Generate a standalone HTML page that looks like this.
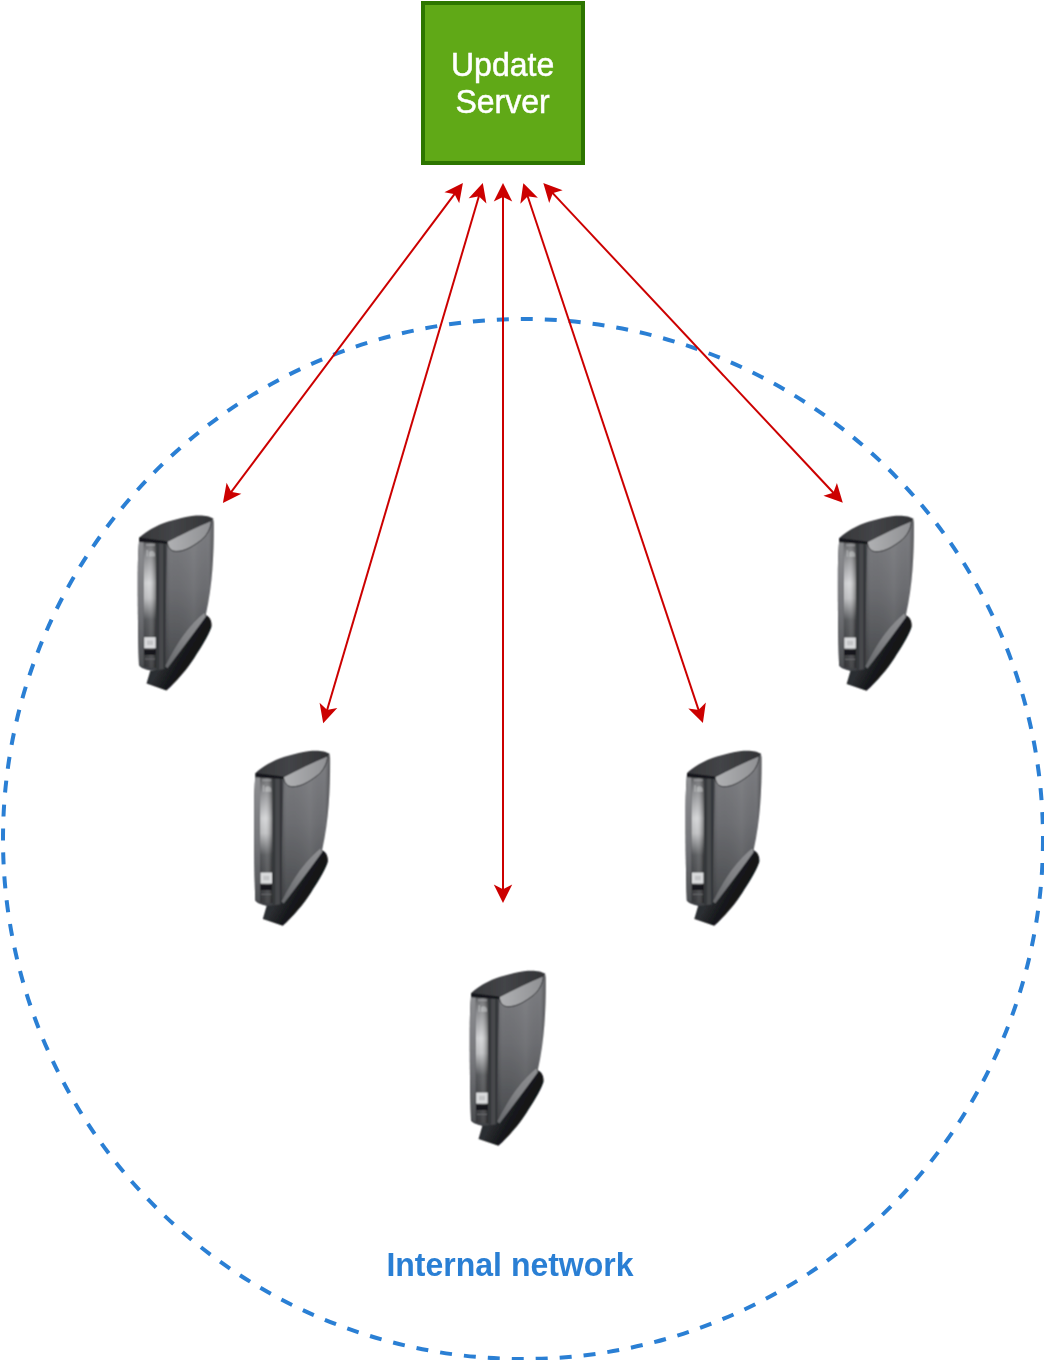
<!DOCTYPE html>
<html><head><meta charset="utf-8"><style>
html,body{margin:0;padding:0;background:#fff;}
body{width:1044px;height:1360px;overflow:hidden;position:relative;}
svg{position:absolute;left:0;top:0;will-change:transform;}
</style></head><body>
<svg width="1044" height="1360" viewBox="0 0 1044 1360">
<defs>
<filter id="soft" x="-5%" y="-5%" width="110%" height="110%"><feConvolveMatrix order="3" kernelMatrix="1 2 1 2 4 2 1 2 1" divisor="16" edgeMode="none"/></filter>
<linearGradient id="gSideV" x1="0" y1="0" x2="0" y2="1">
  <stop offset="0" stop-color="#7e7f83"/>
  <stop offset="0.45" stop-color="#6c6d71"/>
  <stop offset="1" stop-color="#46484b"/>
</linearGradient>
<linearGradient id="gSideH" x1="0" y1="0" x2="1" y2="0">
  <stop offset="0" stop-color="#000" stop-opacity="0.18"/>
  <stop offset="0.12" stop-color="#000" stop-opacity="0"/>
  <stop offset="0.6" stop-color="#fff" stop-opacity="0.05"/>
  <stop offset="0.9" stop-color="#000" stop-opacity="0"/>
  <stop offset="1" stop-color="#000" stop-opacity="0.28"/>
</linearGradient>
<linearGradient id="gStrip" x1="0" y1="0" x2="0" y2="1">
  <stop offset="0" stop-color="#5e5f62"/>
  <stop offset="0.12" stop-color="#8e8f92"/>
  <stop offset="0.33" stop-color="#d4d5d7"/>
  <stop offset="0.45" stop-color="#c0c1c3"/>
  <stop offset="0.62" stop-color="#57595c"/>
  <stop offset="1" stop-color="#333437"/>
</linearGradient>
<linearGradient id="gStripH" x1="0" y1="0" x2="1" y2="0">
  <stop offset="0" stop-color="#000" stop-opacity="0.05"/>
  <stop offset="0.4" stop-color="#fff" stop-opacity="0.05"/>
  <stop offset="1" stop-color="#000" stop-opacity="0.45"/>
</linearGradient>
<linearGradient id="gFrame" x1="0" y1="0" x2="0" y2="1">
  <stop offset="0" stop-color="#8d8e91"/>
  <stop offset="0.5" stop-color="#76777b"/>
  <stop offset="1" stop-color="#4d4f52"/>
</linearGradient>
<linearGradient id="gCres" x1="0" y1="0" x2="1" y2="0">
  <stop offset="0" stop-color="#b0b1b3"/>
  <stop offset="1" stop-color="#8f9093"/>
</linearGradient>
<linearGradient id="gCap" x1="0" y1="0" x2="1" y2="0">
  <stop offset="0" stop-color="#36373a"/>
  <stop offset="0.45" stop-color="#434447"/>
  <stop offset="1" stop-color="#323336"/>
</linearGradient>
<linearGradient id="gStand" x1="0.42" y1="0.38" x2="0.78" y2="0.62">
  <stop offset="0" stop-color="#2c2e31"/>
  <stop offset="0.5" stop-color="#16181b"/>
  <stop offset="1" stop-color="#0f1114"/>
</linearGradient>
<linearGradient id="gHi" x1="0" y1="1" x2="1" y2="0">
  <stop offset="0" stop-color="#66686b"/>
  <stop offset="0.5" stop-color="#818285"/>
  <stop offset="1" stop-color="#8e8f92"/>
</linearGradient>
<g id="dev">
  <!-- side face -->
  <path d="M34 34 L37.2 34.2 L83 11 C84 13 83.8 16 83.8 20 C83.8 45 82.5 78 76 106 L34 165 Z" fill="url(#gSideV)"/>
  <path d="M34 34 L37.2 34.2 L83 11 C84 13 83.8 16 83.8 20 C83.8 45 82.5 78 76 106 L34 165 Z" fill="url(#gSideH)"/>
  <!-- front panel -->
  <path d="M9.3 30 L37.2 34 L34.6 163.5 L20.3 162.6 C14 161 10 159.5 9 157 C8 130 7.6 90 7.8 60 C8 45 8.8 35 9.3 30 Z" fill="#404246"/>
  <path d="M9.3 31 L13.8 31.5 L13.8 158.6 L9 157 C8 130 7.6 90 7.8 60 C8 45 8.8 35 9.3 31 Z" fill="url(#gFrame)"/>
  <path d="M13.8 33 L26.2 33.5 L26.2 160 L13.8 159 Z" fill="url(#gStrip)"/>
  <path d="M13.8 33 L26.2 33.5 L26.2 160 L13.8 159 Z" fill="url(#gStripH)"/>
  <rect x="26.2" y="33.5" width="3" height="128" fill="#36383b"/>
  <rect x="29.2" y="33.8" width="4.6" height="128" fill="#46484c"/>
  <rect x="33.6" y="34" width="1.6" height="129" fill="#2f3134"/>
  <!-- logo -->
  <path d="M16.5 42 L18 42 L18 48.5 L16.5 48.5 Z M19 44 C21.5 42 24.5 43 25 46 L25 48.5 L19 48.5 Z" fill="#e4e5e6" opacity="0.4"/>
  <rect x="16" y="36" width="9" height="2" fill="#d0d1d3" opacity="0.35"/>
  <!-- label & slot -->
  <rect x="14.2" y="129.2" width="11.5" height="11.1" fill="#dadbdd"/>
  <rect x="17" y="132.5" width="6" height="4.5" fill="#c3c4c6"/>
  <rect x="14.2" y="141.6" width="11.5" height="5.2" fill="#17181a"/>
  <rect x="15" y="150.5" width="10" height="1" fill="#6a6b6e"/>
  <!-- crescent -->
  <path d="M37.2 33.6 C50 27 68 18 81.4 12.6 C81 20 77 28 70 33 C62 39 54 43.5 46 43.4 C40.5 43.2 38 39.5 37.2 33.6 Z" fill="url(#gCres)" stroke="#36373a" stroke-width="1"/>
  <!-- cap -->
  <path d="M9.3 29.6 C14 25.5 22 20 30 16.5 C40 12.5 55 8.5 66 7.5 C73 7 80 8 83.5 10.8 L81.4 12.6 C68 18 50 27 37.2 33.6 L9.3 33 Z" fill="url(#gCap)"/>
  <path d="M9.3 29.6 L37.2 33.2 L37.2 35.8 L9.3 34 Z" fill="#16181b"/>
  <!-- stand -->
  <path d="M20.3 162.8 L16.5 175.6 L36.4 182.5 C46 174 58 160 64.6 149.4 C70 141 78 129 81.5 118.8 C82.2 114 80 108.5 76.2 107.2 L74.6 104.6 Q53.35 120.95 35.1 158.3 L35 161 Z" fill="url(#gStand)"/>
  <path d="M35.1 158.3 Q53.35 120.95 74.6 104.6 L75.9 108.6 Q64.5 124.5 37.4 160.2 Z" fill="url(#gHi)"/>
</g>

</defs>
<ellipse cx="523" cy="839" rx="520" ry="520" fill="none" stroke="#2A7FD4" stroke-width="4" stroke-dasharray="12 12"/>
<text x="510" y="0" transform="translate(0 1276) scale(1 1.02)" text-anchor="middle" font-family="Liberation Sans, sans-serif" font-weight="bold" font-size="32" fill="#2A7FD4">Internal network</text>
<g filter="url(#soft)"><use href="#dev" transform="translate(130.0 508.0)"/>
<use href="#dev" transform="translate(246.3 743.3)"/>
<use href="#dev" transform="translate(462.0 963.3)"/>
<use href="#dev" transform="translate(677.8 743.3)"/>
<use href="#dev" transform="translate(830.1 508.3)"/></g>
<rect x="423" y="3" width="160" height="160" fill="#60A917" stroke="#2D7600" stroke-width="4"/>
<text x="502.6" y="0" transform="translate(0 76.0) scale(1 1.02)" text-anchor="middle" font-family="Liberation Sans, sans-serif" font-size="32" fill="#ffffff" stroke="#ffffff" stroke-width="0.5">Update</text>
<text x="502.6" y="0" transform="translate(0 113.3) scale(1 1.02)" text-anchor="middle" font-family="Liberation Sans, sans-serif" font-size="32" fill="#ffffff" stroke="#ffffff" stroke-width="0.5">Server</text>
<path d="M455.26 193.19 L230.54 492.81" stroke="#CC0000" stroke-width="2" fill="none"/>
<path d="M461.56 184.79 L458.76 200.19 L455.26 193.19 L447.56 191.79 Z" fill="#CC0000" stroke="#CC0000" stroke-width="2" stroke-miterlimit="10"/>
<path d="M224.24 501.21 L227.04 485.81 L230.54 492.81 L238.24 494.21 Z" fill="#CC0000" stroke="#CC0000" stroke-width="2" stroke-miterlimit="10"/>
<path d="M479.19 195.31 L326.81 710.99" stroke="#CC0000" stroke-width="2" fill="none"/>
<path d="M482.17 185.24 L484.91 200.65 L479.19 195.31 L471.49 196.69 Z" fill="#CC0000" stroke="#CC0000" stroke-width="2" stroke-miterlimit="10"/>
<path d="M323.83 721.06 L321.09 705.65 L326.81 710.99 L334.51 709.61 Z" fill="#CC0000" stroke="#CC0000" stroke-width="2" stroke-miterlimit="10"/>
<path d="M503.00 195.74 L503.00 890.36" stroke="#CC0000" stroke-width="2" fill="none"/>
<path d="M503.00 185.24 L510.00 199.24 L503.00 195.74 L496.00 199.24 Z" fill="#CC0000" stroke="#CC0000" stroke-width="2" stroke-miterlimit="10"/>
<path d="M503.00 900.86 L496.00 886.86 L503.00 890.36 L510.00 886.86 Z" fill="#CC0000" stroke="#CC0000" stroke-width="2" stroke-miterlimit="10"/>
<path d="M527.32 195.28 L698.88 710.92" stroke="#CC0000" stroke-width="2" fill="none"/>
<path d="M524.01 185.32 L535.07 196.40 L527.32 195.28 L521.78 200.82 Z" fill="#CC0000" stroke="#CC0000" stroke-width="2" stroke-miterlimit="10"/>
<path d="M702.19 720.88 L691.13 709.80 L698.88 710.92 L704.42 705.38 Z" fill="#CC0000" stroke="#CC0000" stroke-width="2" stroke-miterlimit="10"/>
<path d="M552.01 192.39 L834.09 493.51" stroke="#CC0000" stroke-width="2" fill="none"/>
<path d="M544.83 184.73 L559.51 190.16 L552.01 192.39 L549.29 199.73 Z" fill="#CC0000" stroke="#CC0000" stroke-width="2" stroke-miterlimit="10"/>
<path d="M841.27 501.17 L826.59 495.74 L834.09 493.51 L836.81 486.17 Z" fill="#CC0000" stroke="#CC0000" stroke-width="2" stroke-miterlimit="10"/>
</svg>
</body></html>
